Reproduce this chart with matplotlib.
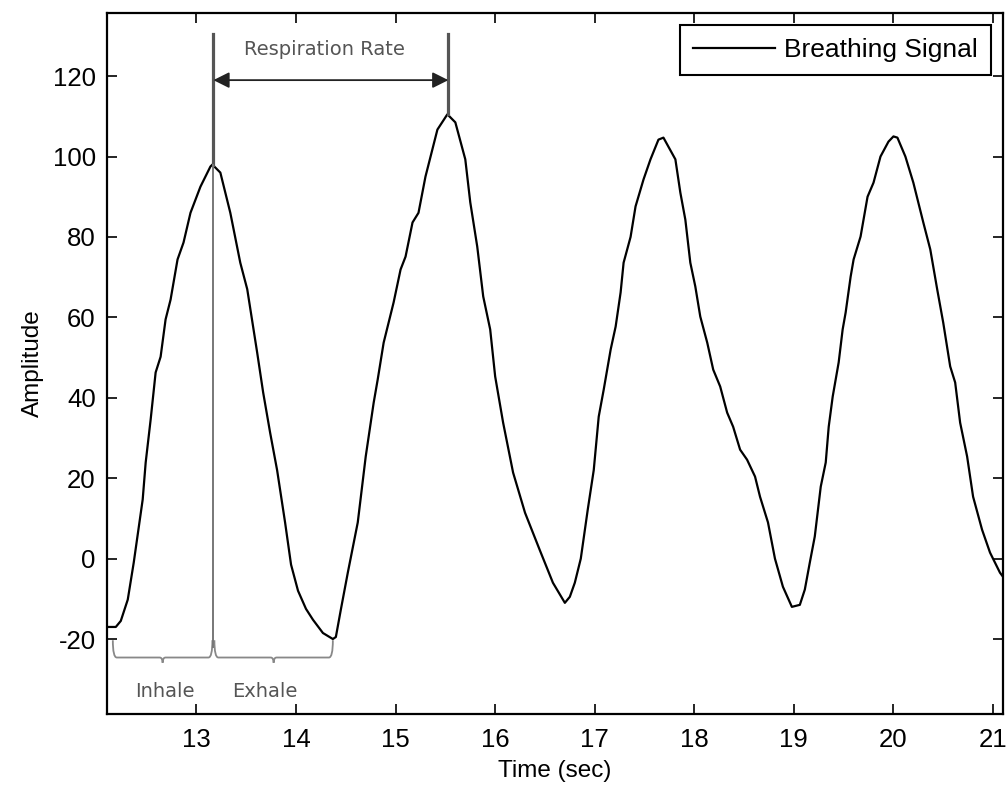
import numpy as np
import matplotlib
matplotlib.use("Agg")
import matplotlib.pyplot as plt
from matplotlib.path import Path
from matplotlib.patches import PathPatch

plt.rcParams['font.family'] = ['Liberation Sans', 'DejaVu Sans']
plt.rcParams['axes.unicode_minus'] = False

# breathing signal (time in sec, amplitude)
t = [12.10, 12.19, 12.24, 12.31, 12.37, 12.46, 12.49, 12.54, 12.59, 12.64,
     12.69, 12.74, 12.81, 12.87, 12.94, 13.04, 13.14, 13.16, 13.24, 13.34,
     13.44, 13.51, 13.61, 13.67, 13.74, 13.81, 13.89, 13.95, 14.02, 14.10,
     14.17, 14.27, 14.37, 14.40, 14.45, 14.52, 14.62, 14.70, 14.78, 14.82,
     14.88, 14.93, 14.98, 15.05, 15.10, 15.17, 15.23, 15.30, 15.42, 15.52,
     15.60, 15.70, 15.75, 15.82, 15.88, 15.95, 16.00, 16.08, 16.18, 16.30,
     16.45, 16.58, 16.70, 16.75, 16.80, 16.86, 16.93, 16.99, 17.04, 17.09,
     17.16, 17.21, 17.26, 17.29, 17.36, 17.41, 17.49, 17.56, 17.64, 17.69,
     17.81, 17.86, 17.91, 17.96, 18.01, 18.06, 18.13, 18.19, 18.26, 18.33,
     18.39, 18.46, 18.53, 18.61, 18.66, 18.74, 18.81, 18.89, 18.98, 19.06,
     19.11, 19.16, 19.21, 19.27, 19.32, 19.35, 19.39, 19.45, 19.49, 19.52,
     19.57, 19.60, 19.67, 19.74, 19.80, 19.87, 19.95, 20.00, 20.04, 20.12,
     20.20, 20.30, 20.37, 20.44, 20.50, 20.57, 20.62, 20.67, 20.74, 20.80,
     20.89, 20.97, 21.07, 21.10]
amp = [-17.0, -17.0, -15.5, -10.2, -1.0, 14.7, 23.9, 34.6, 46.3, 50.2,
       59.5, 64.4, 74.4, 78.6, 86.0, 92.5, 97.5, 98.0, 96.0, 86.0,
       73.6, 67.0, 51.2, 41.3, 31.3, 22.0, 9.0, -1.5, -8.0, -12.5,
       -15.2, -18.5, -20.0, -19.5, -12.7, -3.5, 9.0, 25.4, 38.8, 44.5,
       53.7, 58.7, 63.7, 71.9, 75.1, 83.6, 86.0, 95.0, 106.7, 110.5,
       108.5, 99.3, 88.6, 77.6, 65.2, 57.0, 45.3, 33.8, 21.4, 11.4,
       2.0, -6.0, -11.0, -9.5, -6.0, 0.0, 12.2, 22.0, 35.3, 42.0,
       52.0, 57.7, 66.2, 73.6, 80.0, 87.6, 94.3, 99.3, 104.2, 104.7,
       99.3, 91.0, 84.3, 73.6, 67.7, 60.2, 53.7, 47.0, 42.8, 36.3,
       32.8, 27.1, 24.6, 20.4, 15.4, 9.0, 0.0, -7.0, -12.0, -11.5,
       -7.7, -1.0, 5.5, 17.9, 23.9, 32.8, 40.3, 48.8, 57.0, 61.2,
       70.1, 74.4, 80.1, 90.0, 93.5, 100.0, 103.7, 105.0, 104.7, 100.0,
       93.5, 83.6, 76.9, 66.9, 58.7, 47.8, 43.8, 33.8, 25.4, 15.4,
       7.2, 1.5, -3.5, -4.5]

x_ticks = [13, 14, 15, 16, 17, 18, 19, 20, 21]
y_ticks = [-20, 0, 20, 40, 60, 80, 100, 120]

# annotation anchors
peak1 = (13.17, 98.0)
peak2 = (15.53, 110.5)
inhale_start = 12.16
exhale_end = 14.37
top_y = 130.5
arrow_y = 119

fig = plt.figure(figsize=(10.08, 7.87), dpi=100)
ax = fig.add_axes([0.106, 0.093, 0.889, 0.8905])

ax.plot(t, amp, color='black', lw=1.6, label='Breathing Signal')

# vertical markers at the two peaks
ax.plot([peak1[0], peak1[0]], [peak1[1], top_y], color='#555555', lw=2.3)
ax.plot([peak1[0], peak1[0]], [-22.0, peak1[1]], color='#777777', lw=1.4)
ax.plot([peak2[0], peak2[0]], [peak2[1], top_y], color='#555555', lw=2.3)
ax.annotate('', xy=(peak1[0], arrow_y), xytext=(peak2[0], arrow_y),
            arrowprops=dict(arrowstyle='<|-|>', color='#222222', lw=1.3,
                            mutation_scale=24, shrinkA=0, shrinkB=0))
ax.text((peak1[0] + peak2[0]) / 2 - 0.06, 126.5, 'Respiration Rate', family='DejaVu Sans',
        fontsize=14, color='#555555', ha='center', va='center')


def brace(x0, x1, y_top=-20.3, y_bar=-24.6, y_tip=-25.9):
    xm = (x0 + x1) / 2
    verts = [(x0, y_top), (x0, y_bar), (x0 + 0.04, y_bar),
             (xm - 0.03, y_bar), (xm, y_bar), (xm, y_tip),
             (xm, y_bar), (xm + 0.03, y_bar),
             (x1 - 0.04, y_bar), (x1, y_bar), (x1, y_top)]
    codes = [Path.MOVETO, Path.CURVE3, Path.CURVE3,
             Path.LINETO, Path.CURVE3, Path.CURVE3,
             Path.CURVE3, Path.CURVE3,
             Path.LINETO, Path.CURVE3, Path.CURVE3]
    ax.add_patch(PathPatch(Path(verts, codes), fill=False, edgecolor='#888888', lw=1.3))


brace(inhale_start, peak1[0] - 0.01)
brace(peak1[0] + 0.01, exhale_end)
ax.text(12.68, -33, 'Inhale', family='DejaVu Sans', fontsize=14, color='#555555',
        ha='center', va='center')
ax.text(13.69, -33, 'Exhale', family='DejaVu Sans', fontsize=14, color='#555555',
        ha='center', va='center')

ax.set_xlim(12.1, 21.1)
ax.set_ylim(-38.6, 135.7)
ax.set_xticks(x_ticks)
ax.set_yticks(y_ticks)
ax.tick_params(direction='in', length=7, width=1.2, top=True, right=True,
               labelsize=18.5, pad=8)
ax.tick_params(axis='x', pad=10)
for s in ax.spines.values():
    s.set_linewidth(1.6)
ax.set_xlabel('Time (sec)', fontsize=17.5, labelpad=6)
ax.set_ylabel('Amplitude', fontsize=17.5, labelpad=6)

leg = ax.legend(loc='upper right', fontsize=19, fancybox=False, framealpha=1,
                edgecolor='black', handlelength=3.1, handletextpad=0.35,
                borderpad=0.5, borderaxespad=0.45)
leg.get_frame().set_linewidth(1.5)

fig.savefig('out.png', dpi=100)
